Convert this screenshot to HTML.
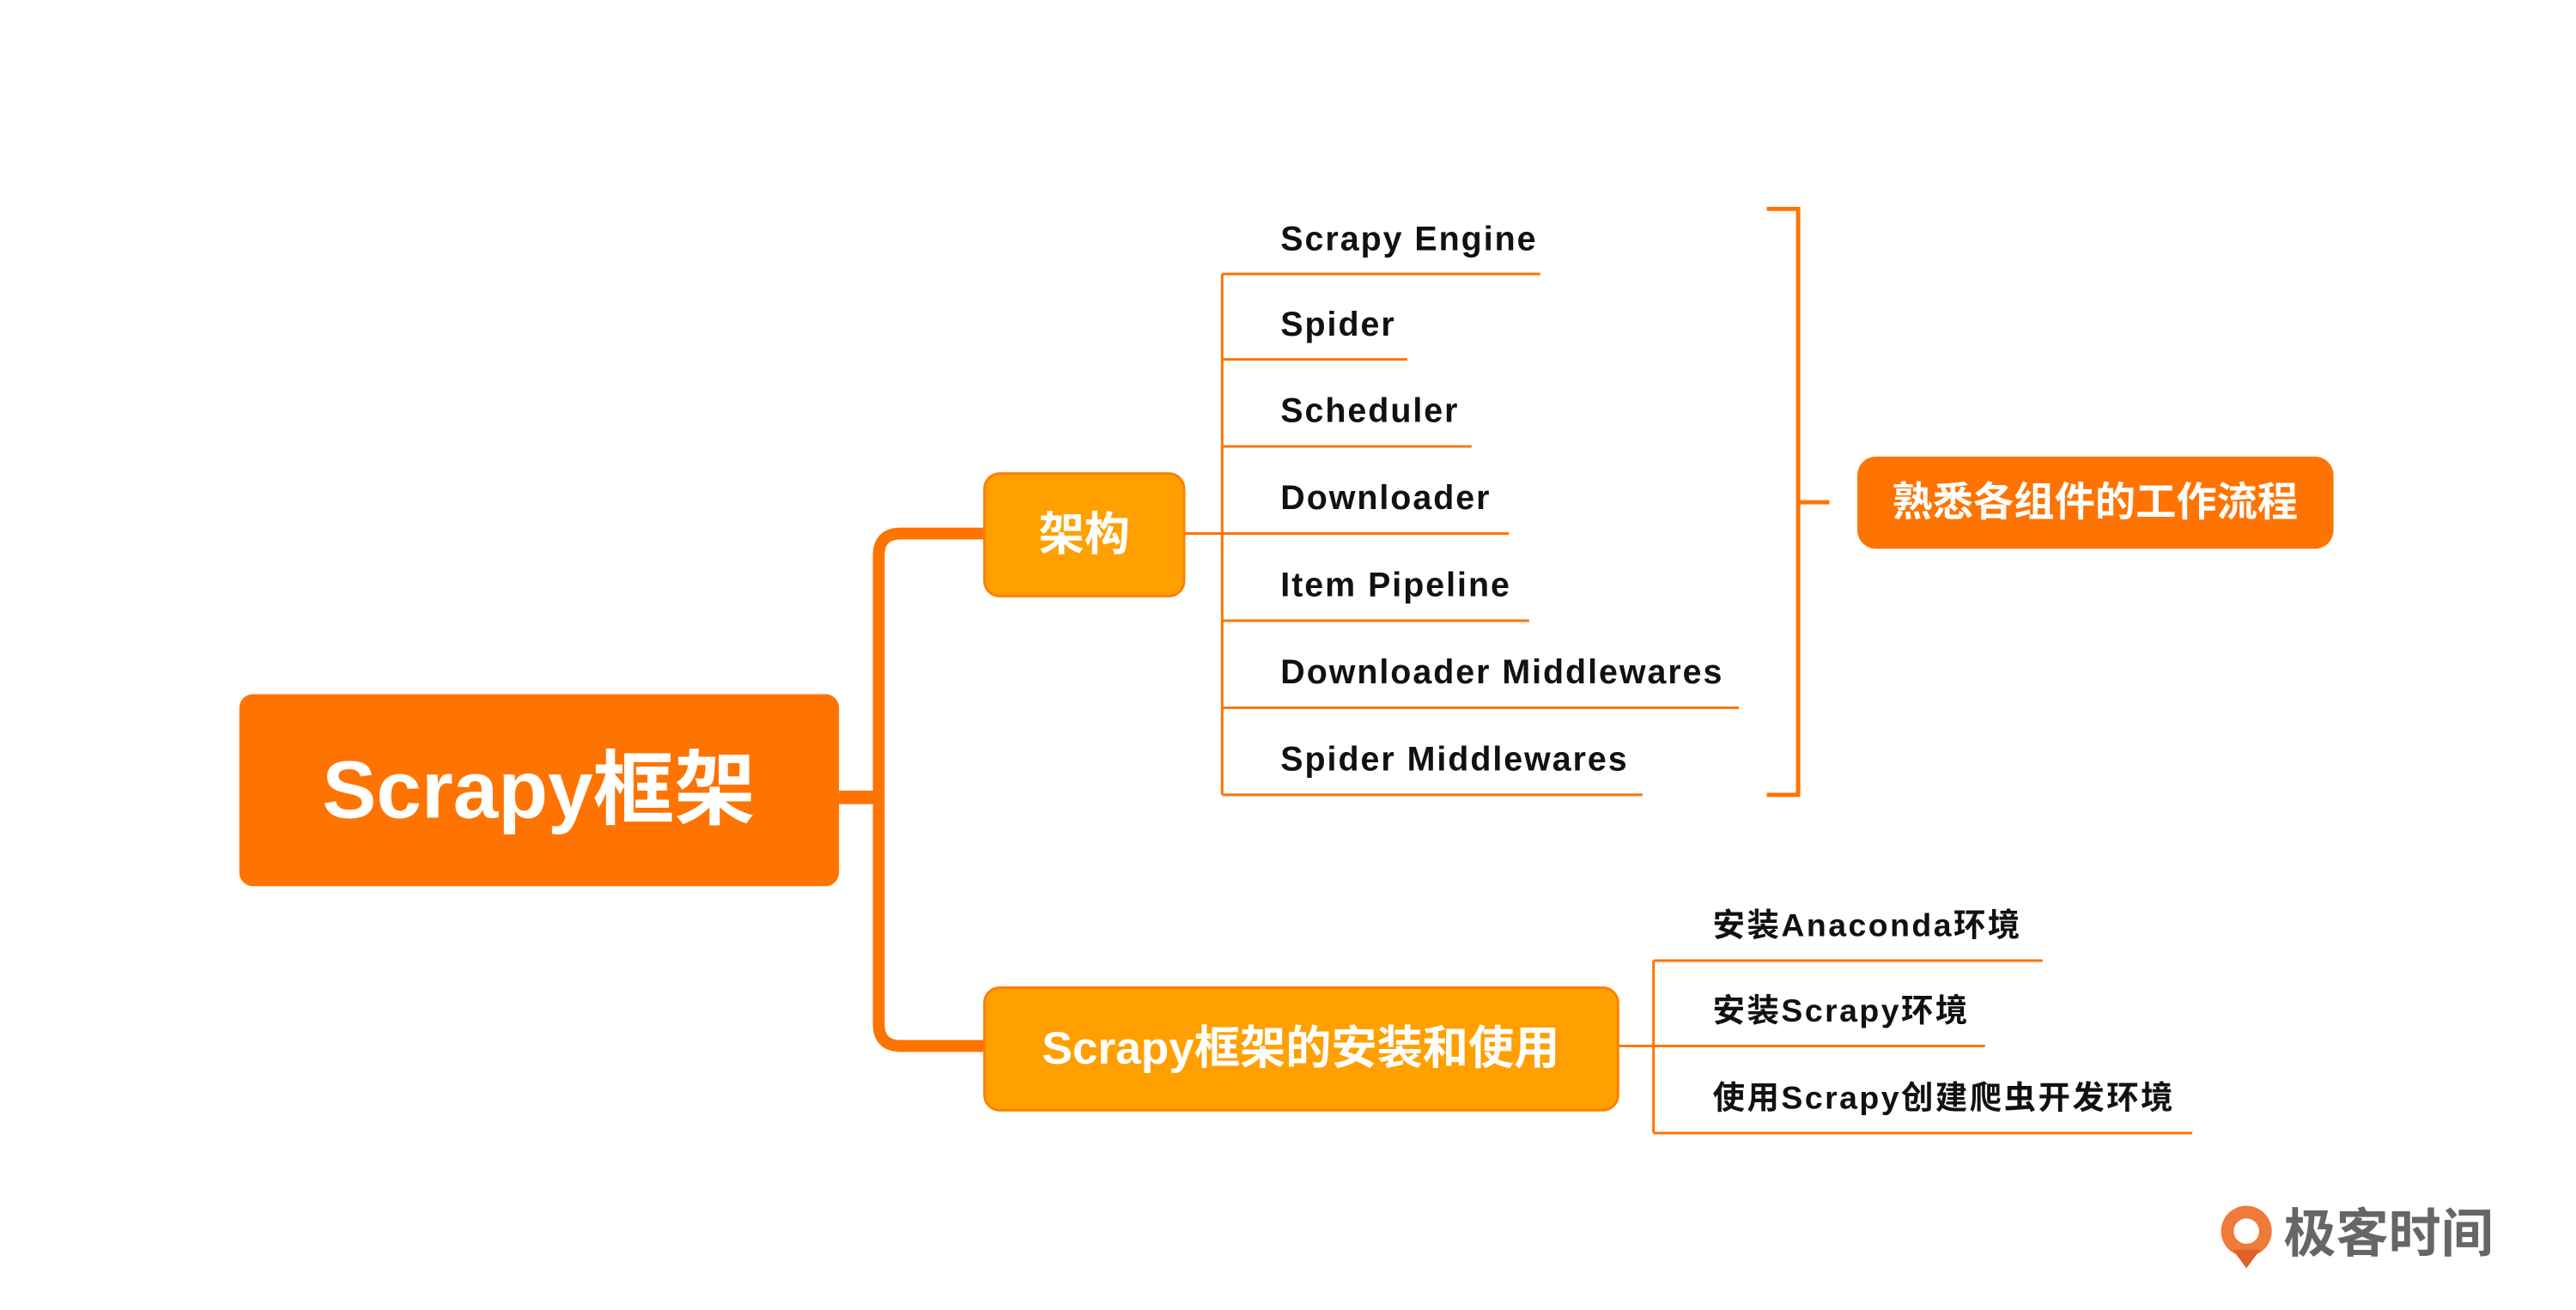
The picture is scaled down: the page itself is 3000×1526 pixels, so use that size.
<!DOCTYPE html>
<html><head><meta charset="utf-8"><style>
html,body{margin:0;padding:0;background:#fff;width:3000px;height:1526px;overflow:hidden}
svg text{font-family:"Liberation Sans","Noto Sans CJK SC",sans-serif;font-weight:bold}
</style></head><body>
<svg width="3000" height="1526" viewBox="0 0 3000 1526" xmlns="http://www.w3.org/2000/svg">
<g transform="scale(0.985)">
<g fill="none" stroke="#FF7300">
<path d="M992 943 H1039" stroke-width="16"/>
<path d="M1163 631 H1065 Q1039 631 1039 657 V1211 Q1039 1237 1065 1237 H1163" stroke-width="14"/>
<g stroke-width="3">
<path d="M1400 631 H1445"/>
<path d="M1445 324 V940"/>
<path d="M1445 324 H1821 M1445 425 H1664 M1445 528 H1740 M1445 631 H1784 M1445 734 H1808 M1445 837 H2056 M1445 940 H1942"/>
<path d="M1913 1237 H1955"/>
<path d="M1955 1136 V1340"/>
<path d="M1955 1136 H2415 M1955 1237 H2347 M1955 1340 H2592"/>
</g>
<path d="M2089 247 H2126 V940 H2089 M2126 594 H2163" stroke-width="5"/>
</g>
<rect x="283" y="821" width="709" height="227" rx="16" fill="#FF7300"/>
<text x="637" y="967" font-size="96" fill="#fff" text-anchor="middle">Scrapy框架</text>
<rect x="1164" y="560" width="236" height="145" rx="18" fill="#FFA000" stroke="#FF7F00" stroke-width="3"/>
<text x="1282" y="650" font-size="54" fill="#fff" text-anchor="middle">架构</text>
<rect x="1164" y="1168" width="749" height="145" rx="18" fill="#FFA000" stroke="#FF7F00" stroke-width="3"/>
<text x="1538" y="1258" font-size="54" fill="#fff" text-anchor="middle">Scrapy框架的安装和使用</text>
<rect x="2196" y="540" width="563" height="109" rx="22" fill="#FF7300"/>
<text x="2477" y="610" font-size="48" fill="#fff" text-anchor="middle">熟悉各组件的工作流程</text>
<g font-size="40" fill="#111" letter-spacing="2">
<text x="1514" y="296">Scrapy Engine</text>
<text x="1514" y="397">Spider</text>
<text x="1514" y="499">Scheduler</text>
<text x="1514" y="602">Downloader</text>
<text x="1514" y="705">Item Pipeline</text>
<text x="1514" y="808">Downloader Middlewares</text>
<text x="1514" y="911">Spider Middlewares</text>
</g>
<g font-size="38" fill="#111" letter-spacing="2.5">
<text x="2025" y="1107">安装Anaconda环境</text>
<text x="2025" y="1208">安装Scrapy环境</text>
<text x="2025" y="1311">使用Scrapy创建爬虫开发环境</text>
</g>
<circle cx="2656" cy="1456" r="30" fill="#F07A3A"/>
<circle cx="2656" cy="1456" r="15" fill="#fff"/>
<path d="M2640 1478 L2656 1500 L2672 1478 Z" fill="#E0602A"/>
<text x="2700" y="1480" font-size="62" fill="#666">极客时间</text>
</g>
</svg>
</body></html>
